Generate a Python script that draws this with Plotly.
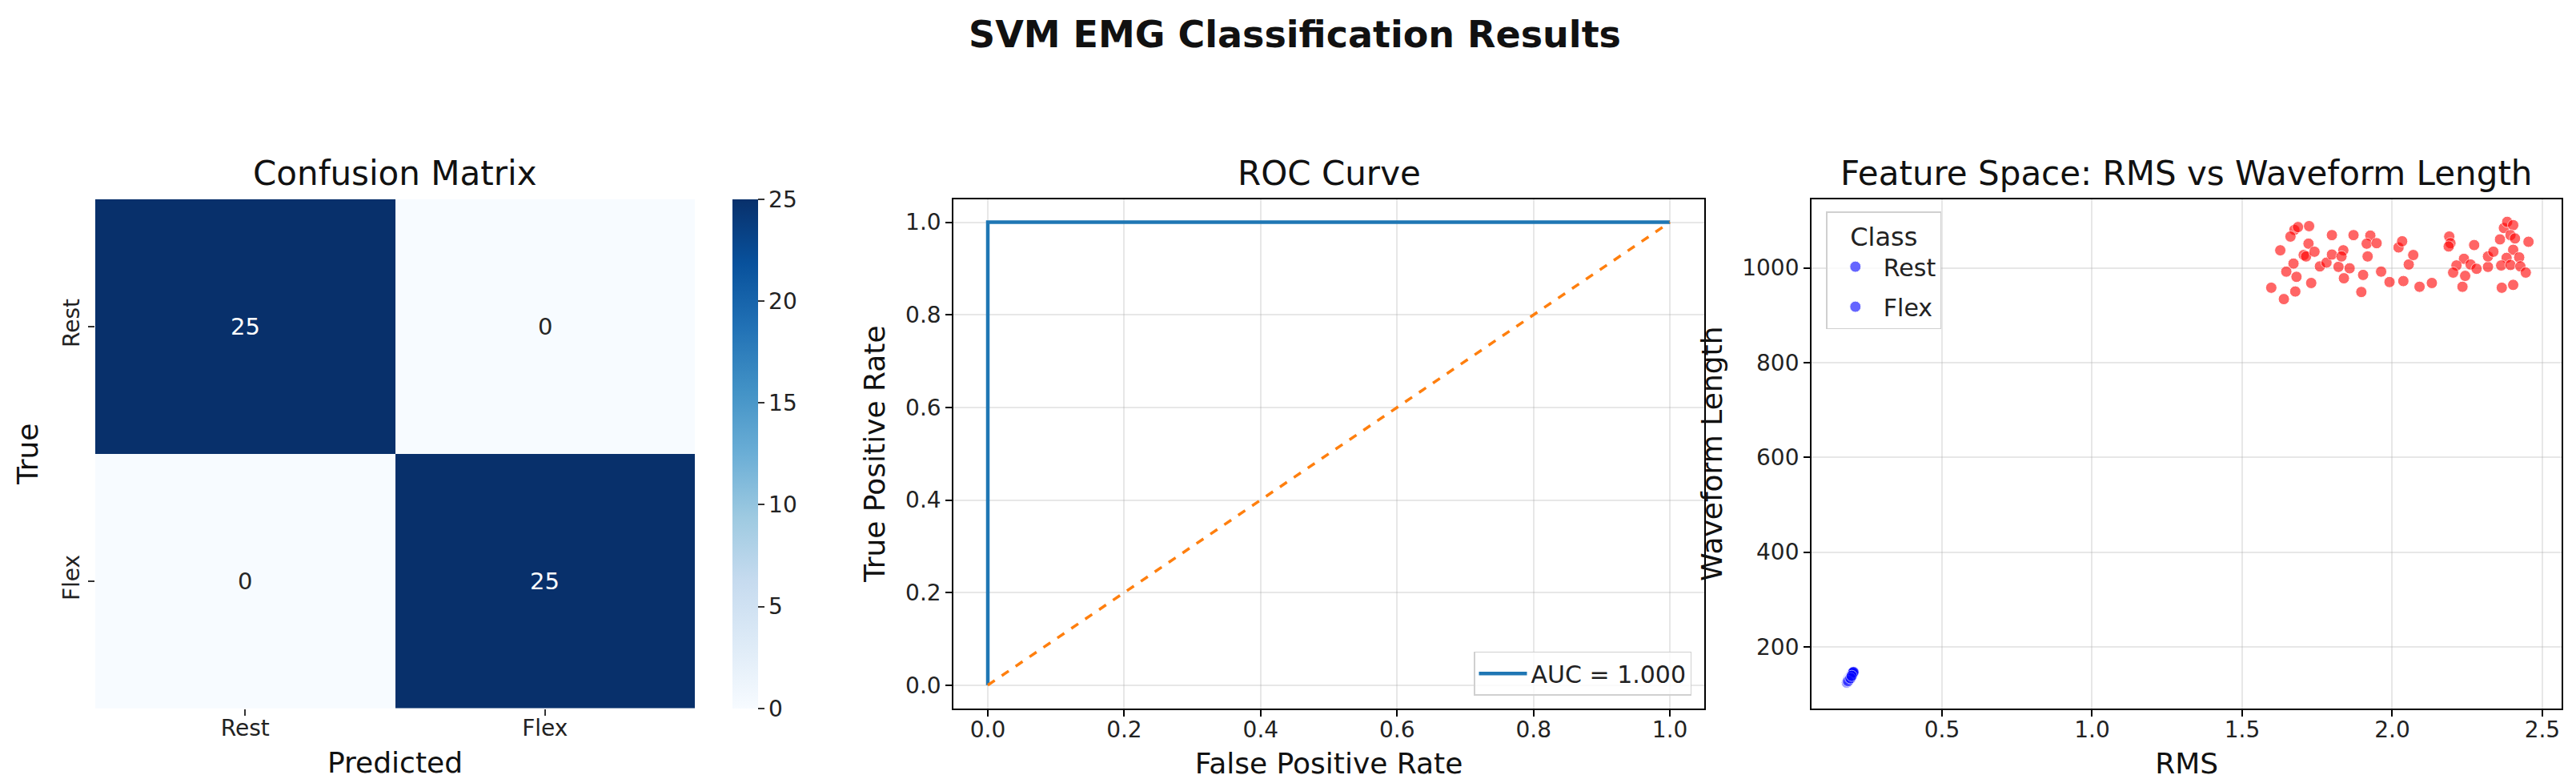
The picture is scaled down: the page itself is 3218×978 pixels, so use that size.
import plotly.graph_objects as go

# ---------------- data ----------------
class_labels = ["Rest", "Flex"]
conf_matrix = [[25, 0],
               [0, 25]]

roc_fpr = [0.0, 0.0, 1.0]
roc_tpr = [0.0, 1.0, 1.0]
auc_value = 1.000
chance_x = [0.0, 1.0]
chance_y = [0.0, 1.0]

rest_rms = [0.183, 0.185, 0.186, 0.188, 0.189, 0.190, 0.191, 0.192, 0.193, 0.193,
            0.194, 0.195, 0.196, 0.197, 0.198, 0.199, 0.200, 0.201, 0.202, 0.203,
            0.204, 0.205, 0.187, 0.195, 0.199]
rest_wl = [125, 127, 129, 130, 132, 131, 134, 133, 135, 134,
           136, 137, 136, 139, 140, 141, 142, 143, 144, 145,
           146, 147, 128, 134, 139]

flex_rms = [1.674, 1.686, 1.723, 1.661, 1.627, 1.721, 1.705, 1.713, 1.741, 1.671,
            1.647, 1.681, 1.597, 1.677, 1.639, 1.730, 1.759, 1.781, 1.799, 1.799,
            1.821, 1.837, 1.831, 1.858, 1.839, 1.871, 1.927, 1.915, 1.948, 1.918,
            1.903, 1.897, 1.963, 1.991, 2.021, 2.033, 2.037, 2.055, 2.070, 2.091,
            2.132, 2.190, 2.194, 2.188, 2.273, 2.239, 2.214, 2.203, 2.261, 2.243,
            2.281, 2.234, 2.319, 2.319, 2.337, 2.359, 2.372, 2.383, 2.403, 2.394,
            2.409, 2.454, 2.403, 2.423, 2.381, 2.363, 2.394, 2.427, 2.445, 2.365,
            2.403]
flex_wl = [1080, 1086, 1088, 1066, 1037, 1051, 1027, 1024, 1034, 1009,
           992, 981, 958, 950, 934, 968, 1003, 1011, 1069, 1028,
           1002, 1037, 1024, 999, 978, 1069, 1068, 1051, 1052, 1024,
           985, 949, 992, 970, 1043, 1056, 972, 1007, 1027, 960,
           968, 1066, 1052, 1045, 1048, 1019, 1005, 990, 1007, 983,
           998, 960, 1002, 1024, 1034, 1060, 1084, 1097, 1090, 1069,
           1062, 1055, 1038, 1022, 1021, 1005, 1006, 1003, 990, 958,
           964]

# ---------------- layout helpers ----------------
W, H = 3218, 978
def fx(px):
    return px / W
def fy(py):
    return 1 - py / H

AX_TOP, AX_BOT = 240.7, 876.7
ydom = [fy(AX_BOT), fy(AX_TOP)]

FONT = "DejaVu Sans"
TICK = 28
LEG = 30
LABEL = 36
TITLE = 42
GRID = "rgba(176,176,176,0.3)"
MSIZE = 14

fig = go.Figure()

# ---- confusion matrix ----
fig.add_trace(go.Heatmap(
    z=conf_matrix, x=class_labels, y=class_labels,
    colorscale="Blues", zmin=0, zmax=25,
    xaxis="x", yaxis="y", showscale=True,
    colorbar=dict(
        x=fx(906.7), xanchor="left", y=ydom[0], yanchor="bottom",
        len=(AX_BOT - AX_TOP) / H, lenmode="fraction",
        thickness=31.6, thicknessmode="pixels", outlinewidth=0,
        tickvals=[0, 5, 10, 15, 20, 25], ticks="outside", ticklen=8,
        tickwidth=2, tickcolor="#333", xpad=0, ypad=0,
        tickfont=dict(size=TICK, family=FONT, color="#222"),
    ),
    hoverinfo="skip",
))
for i, row in enumerate(conf_matrix):
    for j, v in enumerate(row):
        fig.add_annotation(
            x=class_labels[j], y=class_labels[i], xref="x", yref="y",
            text=str(v), showarrow=False,
            font=dict(size=29, family=FONT,
                      color="white" if v > 12.5 else "#262626"),
        )

# ---- ROC ----
fig.add_trace(go.Scatter(
    x=roc_fpr, y=roc_tpr, mode="lines", xaxis="x2", yaxis="y2",
    line=dict(color="#1f77b4", width=4.5),
    name=f"AUC = {auc_value:.3f}", legend="legend", showlegend=True,
))
fig.add_trace(go.Scatter(
    x=chance_x, y=chance_y, mode="lines", xaxis="x2", yaxis="y2",
    line=dict(color="#ff7f0e", width=3.5, dash="dash"), showlegend=False,
))

# ---- feature space ----
mk_blue = dict(color="blue", size=MSIZE, opacity=0.6,
               line=dict(color="white", width=1))
fig.add_trace(go.Scatter(
    x=rest_rms, y=rest_wl, mode="markers", xaxis="x3", yaxis="y3",
    name="Rest", legend="legend2", legendgroup="rest", showlegend=True,
    marker=mk_blue,
))
fig.add_trace(go.Scatter(
    x=flex_rms, y=flex_wl, mode="markers", xaxis="x3", yaxis="y3",
    name="Flex", showlegend=False,
    marker=dict(color="red", size=MSIZE, opacity=0.6,
                line=dict(color="white", width=1)),
))
fig.add_trace(go.Scatter(
    x=[None], y=[None], mode="markers", xaxis="x3", yaxis="y3",
    name="Flex", legend="legend2", legendgroup="flex", showlegend=True,
    marker=mk_blue,
))

tickfont = dict(size=TICK, family=FONT, color="#222")
labfont = dict(size=LABEL, family=FONT, color="#111")

def lin_axis(domain, rng, tickvals, ticktext, title, anchor, standoff, xside=True):
    d = dict(
        domain=domain, range=rng, tickvals=tickvals, ticktext=ticktext,
        anchor=anchor, showgrid=True, gridcolor=GRID, gridwidth=2,
        zeroline=False, showline=True, linecolor="black", linewidth=2.4,
        mirror=True, ticks="outside", ticklen=8, tickwidth=2,
        tickcolor="black", tickfont=tickfont,
        title=dict(text=title, font=labfont, standoff=standoff),
    )
    if xside:
        d["ticklabelstandoff"] = -8
    return d

layout = dict(
    width=W, height=H, margin=dict(l=0, r=0, t=0, b=0),
    paper_bgcolor="white", plot_bgcolor="white",
    font=dict(family=FONT, color="#111"),
    # heatmap axes
    xaxis=dict(domain=[fx(111), fx(860)], anchor="y", range=[-0.5, 1.5],
               showgrid=False, zeroline=False, showline=False,
               ticks="outside", ticklen=8, tickwidth=2, tickcolor="#333",
               tickfont=tickfont, ticklabelstandoff=-8,
               title=dict(text="Predicted", font=labfont, standoff=14)),
    yaxis=dict(domain=ydom, anchor="x", autorange="reversed",
               showgrid=False, zeroline=False, showline=False,
               ticks="outside", ticklen=8, tickwidth=2, tickcolor="#333",
               tickangle=-90, tickfont=tickfont,
               title=dict(text="True", font=labfont, standoff=14)),
    xaxis2=lin_axis([fx(1183.4), fx(2120.7)], [-0.05, 1.05],
                    [0, 0.2, 0.4, 0.6, 0.8, 1.0],
                    ["0.0", "0.2", "0.4", "0.6", "0.8", "1.0"],
                    "False Positive Rate", "y2", 14),
    yaxis2=lin_axis(ydom, [-0.05, 1.05],
                    [0, 0.2, 0.4, 0.6, 0.8, 1.0],
                    ["0.0", "0.2", "0.4", "0.6", "0.8", "1.0"],
                    "True Positive Rate", "x2", 14, xside=False),
    xaxis3=lin_axis([fx(2255.3), fx(3191.9)], [0.066, 2.564],
                    [0.5, 1.0, 1.5, 2.0, 2.5],
                    ["0.5", "1.0", "1.5", "2.0", "2.5"],
                    "RMS", "y3", 14),
    yaxis3=lin_axis(ydom, [70.5, 1145],
                    [200, 400, 600, 800, 1000],
                    ["200", "400", "600", "800", "1000"],
                    "Waveform Length", "x3", 14, xside=False),
    legend=dict(
        x=fx(2105), xanchor="right", y=fy(860.7), yanchor="bottom",
        bgcolor="rgba(255,255,255,0.8)", bordercolor="#d0d0d0", borderwidth=1.5,
        font=dict(size=LEG, family=FONT, color="#222"), itemwidth=60,
    ),
    legend2=dict(
        x=fx(2273.3), xanchor="left", y=fy(256), yanchor="top",
        bgcolor="rgba(255,255,255,0.8)", bordercolor="#d0d0d0", borderwidth=1.5,
        font=dict(size=LEG, family=FONT, color="#222"), itemwidth=60,
        title=dict(text="Class", side="top center",
                   font=dict(size=32, family=FONT, color="#222")),
        tracegroupgap=8,
    ),
)
fig.update_layout(**layout)

# subplot titles and suptitle
titles = [("Confusion Matrix", (111 + 860) / 2),
          ("ROC Curve", (1183.4 + 2120.7) / 2),
          ("Feature Space: RMS vs Waveform Length", (2255.3 + 3191.9) / 2)]
for txt, cx in titles:
    fig.add_annotation(x=fx(cx), y=fy(AX_TOP), xref="paper", yref="paper",
                       xanchor="center", yanchor="bottom", yshift=6,
                       text=txt, showarrow=False,
                       font=dict(size=TITLE, family=FONT, color="#111"))
fig.add_annotation(x=0.5, y=fy(35), xref="paper", yref="paper",
                   xanchor="center", yanchor="middle",
                   text="<b>SVM EMG Classification Results</b>", showarrow=False,
                   font=dict(size=46, family=FONT, color="#111"))

fig.write_html("out.html")
